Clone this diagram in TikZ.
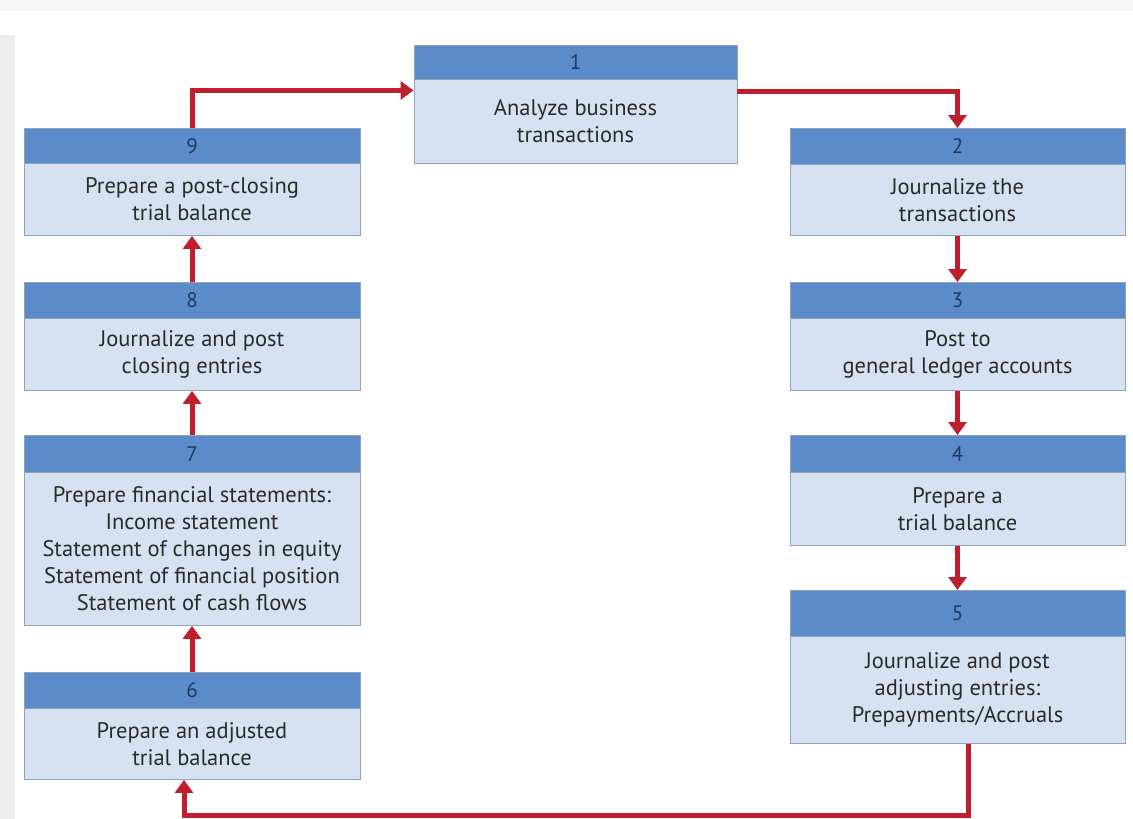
\documentclass[tikz,border=0pt]{standalone}
\usepackage{fontspec}
\setmainfont{PT Sans}
\usetikzlibrary{arrows.meta}
\definecolor{hdrblue}{HTML}{5B8BC8}
\definecolor{bodyblue}{HTML}{D6E1F2}
\definecolor{edgeblue}{HTML}{8EA3BD}
\definecolor{flowred}{HTML}{BE1E2D}
\definecolor{txtgray}{HTML}{2A2A2A}
\definecolor{numnavy}{HTML}{1F3A5F}
\tikzset{
  hdrbox/.style={draw=edgeblue, fill=hdrblue, line width=0.9pt, anchor=north, inner sep=0pt,
    text=numnavy, font=\fontsize{21}{24}\selectfont},
  bodybox/.style={draw=edgeblue, fill=bodyblue, line width=0.9pt, anchor=north, inner sep=0pt,
    align=center, text=txtgray, font=\fontsize{22.5}{27}\selectfont},
  flow/.style={draw=flowred, line width=5pt, -{Triangle[length=13pt,width=18pt]}}
}
% #1 name, #2 x1, #3 x2, #4 top, #5 header bottom, #6 bottom, #7 number, #8 text
\newcommand{\cyclebox}[8]{%
  \node[hdrbox, minimum width={#3-#2}, minimum height={#5-#4}] (#1h) at ({(#2+#3)/2},#4) {#7};
  \node[bodybox, minimum width={#3-#2}, minimum height={#6-#5}] (#1) at ({(#2+#3)/2},#5) {#8};
}
\begin{document}
\begin{tikzpicture}[x=1pt,y=-1pt]
\useasboundingbox (0,0) rectangle (1133,819);
\fill[white] (0,0) rectangle (1133,819);
\fill[black!3] (0,0) rectangle (1133,11);
\fill[black!7] (0,35) rectangle (15,819);

\cyclebox{b1}{414}{737}{45}{79}{163}{1}{Analyze business\\transactions}
\cyclebox{b2}{790}{1125}{128}{164}{235}{2}{Journalize the\\transactions}
\cyclebox{b3}{790}{1125}{282}{318}{390}{3}{Post to\\general ledger accounts}
\cyclebox{b4}{790}{1125}{435}{472}{545}{4}{Prepare a\\trial balance}
\cyclebox{b5}{790}{1125}{590}{636}{743}{5}{Journalize and post\\adjusting entries:\\Prepayments/Accruals}
\cyclebox{b6}{24}{360}{672}{708}{779}{6}{Prepare an adjusted\\trial balance}
\cyclebox{b7}{24}{360}{435}{472}{625}{7}{Prepare financial statements:\\Income statement\\Statement of changes in equity\\Statement of financial position\\Statement of cash flows}
\cyclebox{b8}{24}{360}{282}{318}{390}{8}{Journalize and post\\closing entries}
\cyclebox{b9}{24}{360}{128}{163}{235}{9}{Prepare a post-closing\\trial balance}

\coordinate (lowR) at (968,815);

\draw[flow] (b9h.north) |- ([yshift=31pt]b1.west);
\draw[flow] ([yshift=30pt]b1.east) -| (b2h.north);
\draw[flow] (b2.south) -- (b3h.north);
\draw[flow] (b3.south) -- (b4h.north);
\draw[flow] (b4.south) -- (b5h.north);
\draw[flow] ([xshift=10.5pt]b5.south) -- (lowR) -| ([xshift=-8pt]b6.south);
\draw[flow] (b6h.north) -- (b7.south);
\draw[flow] (b7h.north) -- (b8.south);
\draw[flow] (b8h.north) -- (b9.south);
\end{tikzpicture}
\end{document}
